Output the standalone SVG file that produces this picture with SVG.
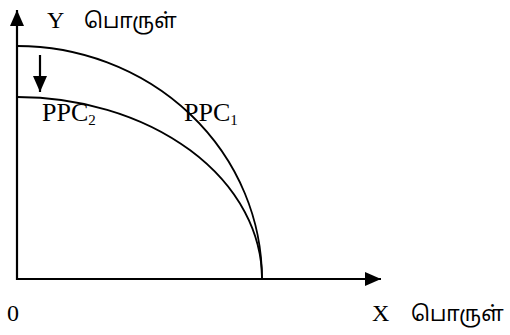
<svg xmlns="http://www.w3.org/2000/svg" width="510" height="335" viewBox="0 0 510 335">
<style>
.ax{stroke:#000;stroke-width:2.2;fill:none}
.cv{stroke:#000;stroke-width:1.8;fill:none}
.lt{font-family:"Liberation Serif","Times New Roman",serif;font-size:24px;fill:#000}
.pp{font-size:26px}
.sub{font-size:15px}
.ta{font-family:"Noto Sans Tamil","Lohit Tamil","Noto Sans",sans-serif;font-size:21px;fill:#000}
</style>
<defs>
<marker id="ah" viewBox="0 0 16 14" refX="16" refY="7" markerWidth="16" markerHeight="14" markerUnits="userSpaceOnUse" orient="auto">
<path d="M0,0 L16,7 L0,14 Z" fill="#000"/>
</marker>
</defs>
<g id="connectors">
<line class="ax" x1="17" y1="280" x2="17" y2="10" marker-end="url(#ah)"/>
<line class="ax" x1="16" y1="279" x2="381" y2="279" marker-end="url(#ah)"/>
<line class="ax" x1="40" y1="55" x2="40" y2="92" marker-end="url(#ah)"/>
</g>
<g id="ppc1">
<path class="cv" d="M17,46 A245,233 0 0 1 262,279"/>
<text class="lt pp" x="184" y="121">PPC<tspan class="sub" dy="4">1</tspan></text>
</g>
<g id="ppc2">
<path class="cv" d="M17,97 A245,182 0 0 1 262,279"/>
<text class="lt pp" x="42" y="121">PPC<tspan class="sub" dy="4">2</tspan></text>
</g>
<g id="labels">
<text class="lt" x="47" y="28">Y</text>
<text class="ta" x="84" y="28">பொருள்</text>
<text class="lt" x="7" y="321">0</text>
<text class="lt" x="372" y="321">X</text>
<text class="ta" x="411" y="321">பொருள்</text>
</g>
</svg>
